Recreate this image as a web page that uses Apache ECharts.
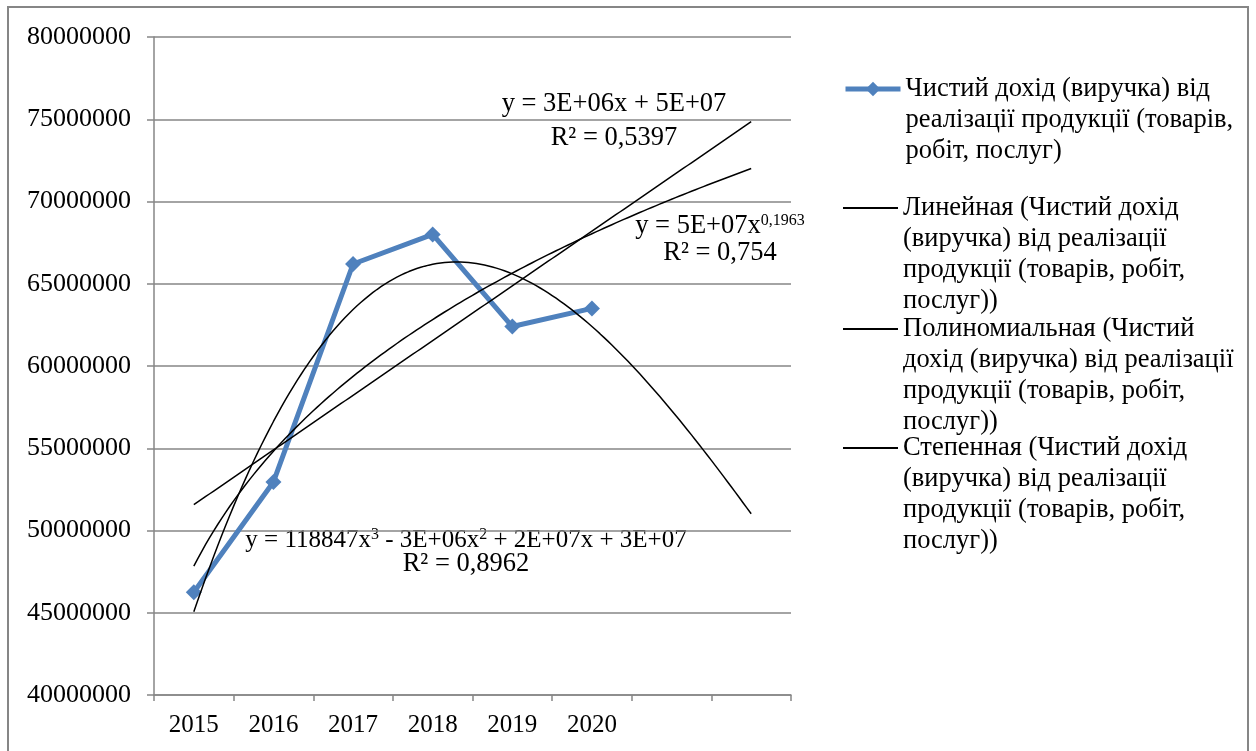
<!DOCTYPE html>
<html>
<head>
<meta charset="utf-8">
<script src="https://cdn.jsdelivr.net/npm/echarts@6/dist/echarts.min.js"></script>
<style>
  html, body { margin: 0; padding: 0; background: #ffffff; }
  #chart { width: 1256px; height: 751px; }
</style>
</head>
<body>
<div id="chart"></div>
<script>
// Net revenue by year
const years = ['2015', '2016', '2017', '2018', '2019', '2020'];
const revenue = [46250000, 52950000, 66200000, 68000000, 62400000, 63500000];
// Trendlines are projected this many periods past the last year
const forecastPeriods = 2;
// Value axis range
const yMin = 40000000;
const yMax = 80000000;
const yStep = 5000000;

const seriesNames = [
  'Чистий дохід (виручка) від реалізації продукції (товарів, робіт, послуг)',
  'Линейная (Чистий дохід (виручка) від реалізації продукції (товарів, робіт, послуг))',
  'Полиномиальная (Чистий дохід (виручка) від реалізації продукції (товарів, робіт, послуг))',
  'Степенная (Чистий дохід (виручка) від реалізації продукції (товарів, робіт, послуг))'
];
const legendLines = [
  ['Чистий дохід (виручка) від', 'реалізації продукції (товарів,', 'робіт, послуг)'],
  ['Линейная (Чистий дохід', '(виручка) від реалізації', 'продукції (товарів, робіт,', 'послуг))'],
  ['Полиномиальная (Чистий', 'дохід (виручка) від реалізації', 'продукції (товарів, робіт,', 'послуг))'],
  ['Степенная (Чистий дохід', '(виручка) від реалізації', 'продукції (товарів, робіт,', 'послуг))']
];

// Least-squares polynomial fit (normal equations, Gaussian elimination)
function polyFit(xs, ys, deg) {
  const n = deg + 1;
  const A = [];
  for (let r = 0; r < n; r++) {
    const row = [];
    for (let c = 0; c < n; c++) {
      let s = 0;
      xs.forEach(x => { s += Math.pow(x, r + c); });
      row.push(s);
    }
    let t = 0;
    xs.forEach((x, i) => { t += ys[i] * Math.pow(x, r); });
    row.push(t);
    A.push(row);
  }
  for (let i = 0; i < n; i++) {
    let p = i;
    for (let k = i + 1; k < n; k++) if (Math.abs(A[k][i]) > Math.abs(A[p][i])) p = k;
    [A[i], A[p]] = [A[p], A[i]];
    for (let k = 0; k < n; k++) {
      if (k === i) continue;
      const f = A[k][i] / A[i][i];
      for (let c = i; c <= n; c++) A[k][c] -= f * A[i][c];
    }
  }
  return A.map((row, i) => row[n] / row[i]); // coefficients c0..cdeg
}
const evalPoly = (c, x) => c.reduce((s, ci, i) => s + ci * Math.pow(x, i), 0);

const xs = revenue.map((_, i) => i + 1);
const linC = polyFit(xs, revenue, 1);
const cubC = polyFit(xs, revenue, 3);
const powC = polyFit(xs.map(Math.log), revenue.map(Math.log), 1);
const powA = Math.exp(powC[0]), powB = powC[1];

const xEnd = xs.length + forecastPeriods;
function sample(fn) {
  const pts = [];
  for (let x = 1; x <= xEnd + 1e-9; x += 0.05) pts.push([x, fn(x)]);
  return pts;
}
const linData = sample(x => evalPoly(linC, x));
const cubData = sample(x => evalPoly(cubC, x));
const powData = sample(x => powA * Math.pow(x, powB));

const categories = years.concat(new Array(forecastPeriods).fill(''));

const FONT = '"Liberation Serif", "Times New Roman", serif';
const GRID_GRAY = '#868686';
const BLUE = '#4F81BD';
const LINE_H = 31;

// One legend block per series; blank lines above the text keep the icon
// level with the first text line
const legendIconY = [89, 208, 329, 448];
const legends = seriesNames.map((name, i) => {
  const n = legendLines[i].length;
  const first = i === 0;
  return {
    data: [first ? name : { name: name, icon: 'rect' }],
    orient: 'vertical',
    left: 843,
    top: legendIconY[i] - (2 * n - 1) * LINE_H / 2,
    padding: 0,
    itemWidth: 55,
    itemHeight: first ? 18 : 2,
    itemGap: 0,
    selectedMode: false,
    lineStyle: { width: 5 },
    formatter: () => new Array(n - 1).fill('').concat(legendLines[i]).join('\n'),
    textStyle: {
      fontFamily: FONT,
      fontSize: 26.5,
      color: '#000',
      lineHeight: LINE_H
    }
  };
});

const chart = echarts.init(document.getElementById('chart'), null, { renderer: 'canvas' });

const eqText = (text, x, y, size, rich) => ({
  type: 'text',
  x: x, y: y,
  silent: true,
  style: {
    text: text,
    fontFamily: FONT,
    fontSize: size,
    fill: '#000',
    align: 'center',
    verticalAlign: 'middle',
    rich: rich || {}
  }
});
const supRich = {
  sup: { fontFamily: FONT, fontSize: 16, fill: '#000', verticalAlign: 'top', padding: [0, 0, 10, 0] }
};

chart.setOption({
  animation: false,
  backgroundColor: '#ffffff',
  grid: { left: 154, top: 37, right: 465, bottom: 56, containLabel: false },
  legend: legends,
  xAxis: [
    {
      type: 'category',
      data: categories,
      boundaryGap: true,
      axisLine: { lineStyle: { color: GRID_GRAY, width: 1.5 } },
      axisTick: { show: true, length: 6, lineStyle: { color: GRID_GRAY, width: 1.5 } },
      axisLabel: { fontFamily: FONT, fontSize: 25, color: '#000', margin: 18, interval: 0 },
      splitLine: { show: false }
    },
    {
      type: 'value',
      min: 0.5,
      max: categories.length + 0.5,
      show: false
    }
  ],
  yAxis: {
    type: 'value',
    min: yMin,
    max: yMax,
    interval: yStep,
    axisLine: { show: true, lineStyle: { color: GRID_GRAY, width: 1.5 } },
    axisTick: { show: true, length: 7, lineStyle: { color: GRID_GRAY, width: 1.5 } },
    axisLabel: { fontFamily: FONT, fontSize: 26, color: '#000', margin: 23, formatter: v => String(v) },
    splitLine: { show: true, lineStyle: { color: GRID_GRAY, width: 1.5 } }
  },
  series: [
    {
      name: seriesNames[1],
      type: 'line',
      xAxisIndex: 1,
      data: linData,
      showSymbol: false,
      symbol: 'none',
      lineStyle: { color: '#000', width: 1.5 },
      itemStyle: { color: '#000' },
      z: 3
    },
    {
      name: seriesNames[2],
      type: 'line',
      xAxisIndex: 1,
      data: cubData,
      showSymbol: false,
      symbol: 'none',
      lineStyle: { color: '#000', width: 1.5 },
      itemStyle: { color: '#000' },
      z: 3
    },
    {
      name: seriesNames[3],
      type: 'line',
      xAxisIndex: 1,
      data: powData,
      showSymbol: false,
      symbol: 'none',
      lineStyle: { color: '#000', width: 1.5 },
      itemStyle: { color: '#000' },
      z: 3
    },
    {
      name: seriesNames[0],
      type: 'line',
      xAxisIndex: 0,
      data: revenue,
      symbol: 'diamond',
      symbolSize: 16,
      lineStyle: { color: BLUE, width: 5 },
      itemStyle: { color: BLUE },
      z: 2
    }
  ],
  graphic: [
    {
      type: 'rect',
      shape: { x: 8, y: 7, width: 1240, height: 760 },
      style: { fill: 'none', stroke: GRID_GRAY, lineWidth: 2 },
      silent: true,
      z: -10
    },
    eqText('y = 3E+06x + 5E+07', 614, 104, 26.5),
    eqText('R² = 0,5397', 614, 138, 26.5),
    eqText('y = 5E+07x{sup|0,1963}', 720, 226, 26.5, supRich),
    eqText('R² = 0,754', 720, 253, 26.5),
    eqText('y = 118847x{sup|3} - 3E+06x{sup|2} + 2E+07x + 3E+07', 466, 540, 25, supRich),
    eqText('R² = 0,8962', 466, 564, 26.5)
  ]
});
</script>
</body>
</html>
